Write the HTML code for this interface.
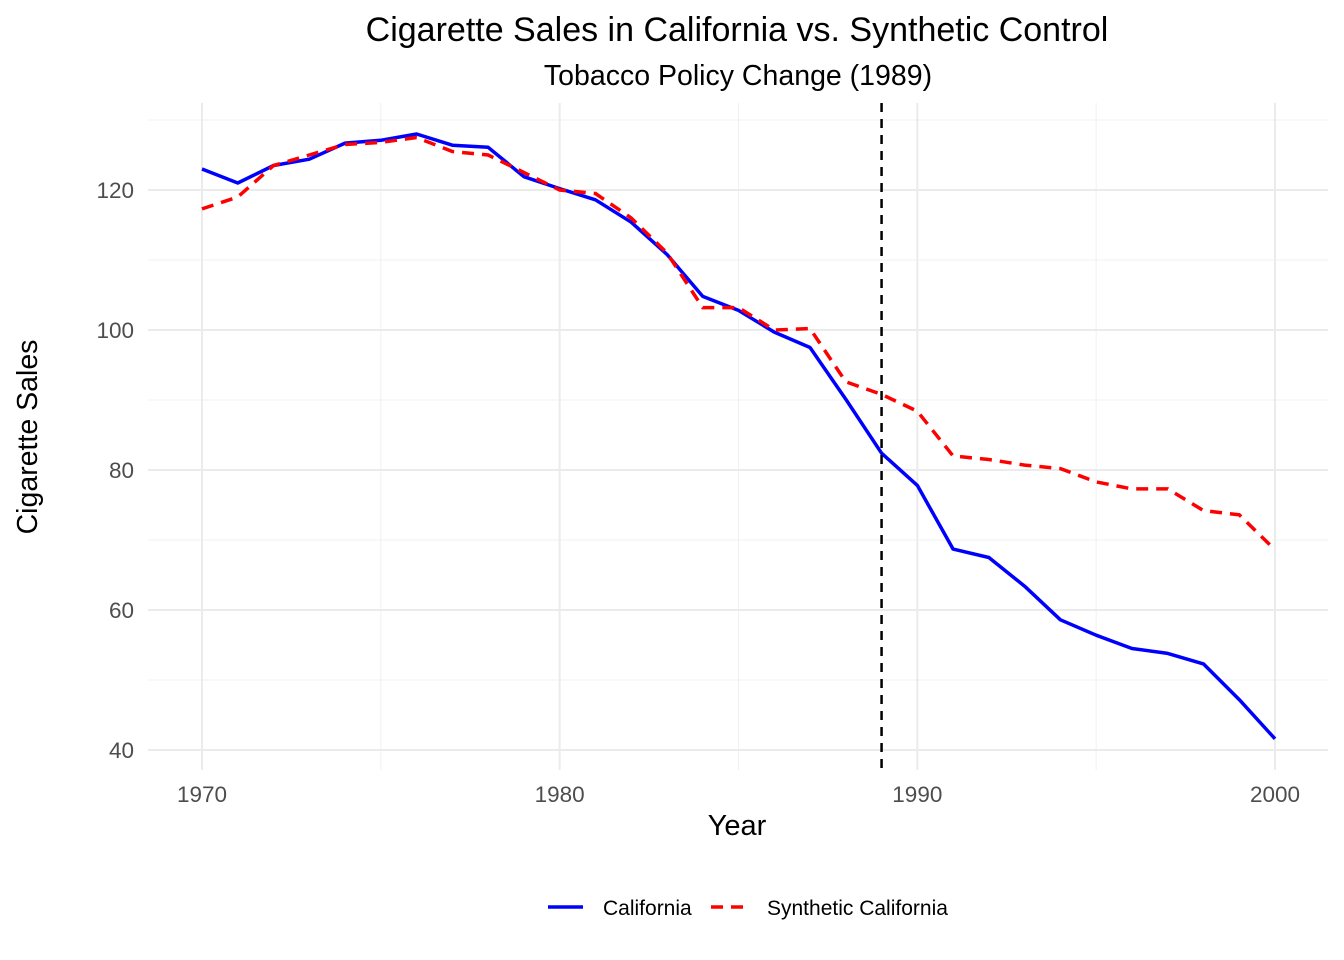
<!DOCTYPE html>
<html><head><meta charset="utf-8"><style>
body{margin:0;background:#fff;}
svg{display:block;font-family:"Liberation Sans",sans-serif;}
</style></head><body>
<svg width="1344" height="960">
<g id="grid"></g>
<g id="series"></g>
<text x="737" y="41" font-size="34" text-anchor="middle">Cigarette Sales in California vs. Synthetic Control</text>
<text x="738" y="85" font-size="28.5" text-anchor="middle">Tobacco Policy Change (1989)</text>
<text x="737" y="835" font-size="29" text-anchor="middle">Year</text>
<text transform="translate(37,437) rotate(-90)" font-size="28.5" text-anchor="middle">Cigarette Sales</text>
<g>
<line x1="548" y1="907" x2="583" y2="907" stroke="#0000ff" stroke-width="3.5"/>
<text x="603" y="915" font-size="21">California</text>
<line x1="711" y1="907" x2="746" y2="907" stroke="#ff0000" stroke-width="3.5" stroke-dasharray="12,8"/>
<text x="767" y="915" font-size="21">Synthetic California</text>
</g>
</svg>
<script>
const years=[1970,1971,1972,1973,1974,1975,1976,1977,1978,1979,1980,1981,1982,1983,1984,1985,1986,1987,1988,1989,1990,1991,1992,1993,1994,1995,1996,1997,1998,1999,2000];
const california=[123,121,123.5,124.4,126.7,127.1,128,126.4,126.1,121.9,120.2,118.6,115.4,110.8,104.8,102.8,99.7,97.5,90.1,82.4,77.8,68.7,67.5,63.4,58.6,56.4,54.5,53.8,52.3,47.2,41.6];
const synthetic=[117.3,119,123.5,125,126.5,126.8,127.5,125.5,125,122.5,120,119.5,116,111,103.2,103.2,100,100.2,92.6,90.8,88.4,82,81.5,80.7,80.2,78.3,77.3,77.3,74.2,73.6,68.6];
const yTicks=[40,60,80,100,120];
const yMinor=[50,70,90,110,130];
const xTicks=[1970,1980,1990,2000];
const xMinor=[1975,1985,1995];
const treatYear=1989;
const NS="http://www.w3.org/2000/svg";
const X=v=>202+(v-1970)*(1275-202)/30;
const Y=v=>750-(v-40)*7;
const L=148,R=1328,T=103,B=770;
function mk(tag,attrs,parent){const e=document.createElementNS(NS,tag);for(const k in attrs)e.setAttribute(k,attrs[k]);parent.appendChild(e);return e;}
const g=document.getElementById('grid'),s=document.getElementById('series'),svg=document.querySelector('svg');
yMinor.forEach(v=>{const e=mk('line',{x1:L,x2:R,y1:Y(v),y2:Y(v),stroke:'#f0f0f0','stroke-width':1},g);

});
xMinor.forEach(v=>{const e=mk('line',{x1:X(v),x2:X(v),y1:T,y2:B,stroke:'#f0f0f0','stroke-width':1},g);

});
yTicks.forEach(v=>{const e=mk('line',{x1:L,x2:R,y1:Y(v),y2:Y(v),stroke:'#ebebeb','stroke-width':2},g);


const t=mk('text',{x:134,y:Y(v)+8,'font-size':22.5,'text-anchor':'end',fill:'#4d4d4d'},svg);t.textContent=v;

});
xTicks.forEach(v=>{const e=mk('line',{x1:X(v),x2:X(v),y1:T,y2:B,stroke:'#ebebeb','stroke-width':2},g);


const t=mk('text',{x:X(v),y:802,'font-size':22.5,'text-anchor':'middle',fill:'#4d4d4d'},svg);t.textContent=v;

});
const pts=a=>years.map((y,i)=>X(y)+','+Y(a[i])).join(' ');
const l1=mk('polyline',{points:pts(california),fill:'none',stroke:'#0000ff','stroke-width':3.5,'stroke-linejoin':'round'},s);


const l2=mk('polyline',{points:pts(synthetic),fill:'none',stroke:'#ff0000','stroke-width':3.5,'stroke-dasharray':'12,8'},s);


const v=mk('line',{x1:X(treatYear),x2:X(treatYear),y1:T,y2:B,stroke:'#000','stroke-width':2.5,'stroke-dasharray':'9,7'},s);


</script>
</body></html>
